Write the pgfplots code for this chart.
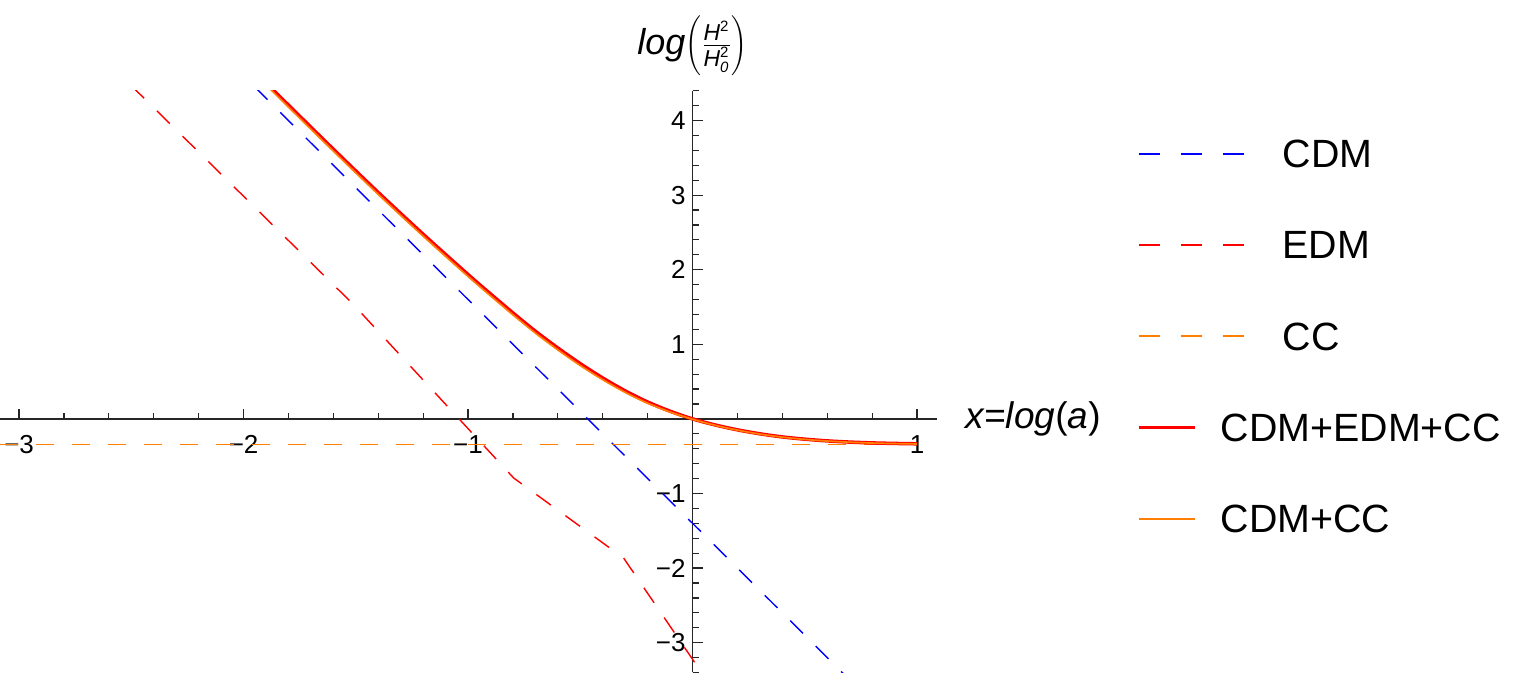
\documentclass[border=0pt]{standalone}
\usepackage{fontspec}
\setmainfont{Liberation Sans}
\usepackage{pgfplots}
\pgfplotsset{compat=1.18}
\definecolor{mmaorange}{rgb}{1,0.5,0}
\definecolor{edmred}{RGB}{255,0,0}
\definecolor{mmablue}{rgb}{0,0,1}
\definecolor{axgray}{gray}{0.15}
\newcommand{\Hf}{\mbox{\fontsize{11.5}{11.5}\selectfont\itshape H}}
\newcommand{\sm}[1]{\mbox{\fontsize{7.5}{7.5}\selectfont #1}}
\pgfplotsset{
  dashleg/.style={legend image code/.code={\pgfsetstrokecolor{#1}\draw[color=#1, line width=0.75pt, dash pattern=on 10.5pt off 10.5pt] (0pt,0.1pt) -- (52.5pt,0.1pt);}},
  solidleg/.style 2 args={legend image code/.code={\draw[color=#1, line width=#2] (0pt,0pt) -- (28pt,0pt);}},
}
\begin{document}
\begin{tikzpicture}
\useasboundingbox (0pt,-2.75pt) rectangle (758.5pt,336.25pt);
\begin{axis}[
  scale only axis, width=468.4pt, height=290.9pt,
  xmin=-3.085, xmax=1.088, ymin=-3.4, ymax=4.4,
  axis lines=middle,
  axis line style={axgray, line width=0.7pt, -},
  xtick={-3,-2,-1,1}, xticklabels={−3,−2,−1,1},
  ytick={-3,-2,-1,1,2,3,4}, yticklabels={−3,−2,−1,1,2,3,4},
  minor xtick={-3,-2.8,...,1}, minor ytick={-3.4,-3.2,...,4.4},
  tick align=inside, major tick length=5pt, minor tick length=3pt,
  tick style={axgray, line width=0.6pt},
  ticklabel style={font=\fontsize{13}{14}\selectfont},
  xticklabel style={anchor=center, yshift=-13pt},
  yticklabel style={anchor=east},
  xlabel={{\itshape x}={\itshape log}({\itshape a})},
  xlabel style={at={(axis cs:1.088,0)}, anchor=west, xshift=11pt, font=\fontsize{18.5}{20}\selectfont},
  ylabel={{\itshape log}$\left(\frac{\Hf^{\sm{2}}}{\Hf^{\sm{2}}_{\sm{\itshape 0}}}\right)$},
  ylabel style={at={(axis cs:0,4.4)}, anchor=center, yshift=22.5pt, rotate=0, font=\fontsize{18}{20}\selectfont},
  legend style={draw=none, fill=none, inner sep=0pt, row sep=31.9pt, column sep=0pt,
    nodes={inner sep=0pt, text depth=0pt},
    anchor=north west, at={(1.2134,0.9153)},
    font=\fontsize{19.7}{21}\selectfont},
  legend cell align=left,
]
\addplot[mmablue, line width=0.7pt, dash pattern=on 9pt off 9pt, dashleg=mmablue]
  coordinates {(-1.95,4.45) (0.70,-3.50)};
\addlegendentry{\hspace*{19pt}CDM}
\addplot[edmred, line width=0.7pt, dash pattern=on 9pt off 9pt, dashleg=edmred]
  coordinates {(-2.50,4.467) (-1.514,1.544) (-0.797,-0.792) (-0.307,-1.866) (0.05,-3.444)};
\addlegendentry{\hspace*{19pt}EDM}
\addplot[mmaorange, line width=0.7pt, dash pattern=on 9pt off 9pt, dashleg=mmaorange]
  coordinates {(-3.085,-0.34) (1.0,-0.34)};
\addlegendentry{\hspace*{19pt}CC}
\addplot[edmred, line width=1.75pt, smooth, solidleg={edmred}{1.75pt}]
  coordinates {(-1.90,4.504) (-1.80,4.206) (-1.60,3.615) (-1.40,3.035) (-1.20,2.475) (-1.00,1.935) (-0.90,1.675) (-0.80,1.420) (-0.70,1.175) (-0.60,0.950) (-0.50,0.740) (-0.40,0.548) (-0.30,0.375) (-0.20,0.226) (-0.10,0.103) (0,0) (0.1,-0.081) (0.2,-0.147) (0.3,-0.200) (0.4,-0.242) (0.5,-0.272) (0.6,-0.295) (0.7,-0.311) (0.8,-0.322) (0.9,-0.329) (1.0,-0.334)};
\addlegendentry{\hspace*{-12pt}CDM+EDM+CC}
\addplot[mmaorange, line width=0.85pt, smooth, solidleg={mmaorange}{0.85pt}]
  coordinates {(-1.90,4.48) (-1.80,4.18) (-1.60,3.59) (-1.40,3.01) (-1.20,2.45) (-1.00,1.91) (-0.90,1.65) (-0.80,1.395) (-0.70,1.15) (-0.60,0.925) (-0.50,0.715) (-0.40,0.525) (-0.30,0.355) (-0.20,0.21) (-0.10,0.092) (0,-0.005) (0.1,-0.086) (0.2,-0.151) (0.3,-0.204) (0.4,-0.245) (0.5,-0.275) (0.6,-0.297) (0.7,-0.313) (0.8,-0.324) (0.9,-0.331) (1.0,-0.336)};
\addlegendentry{\hspace*{-12pt}CDM+CC}
\end{axis}
\end{tikzpicture}
\end{document}
